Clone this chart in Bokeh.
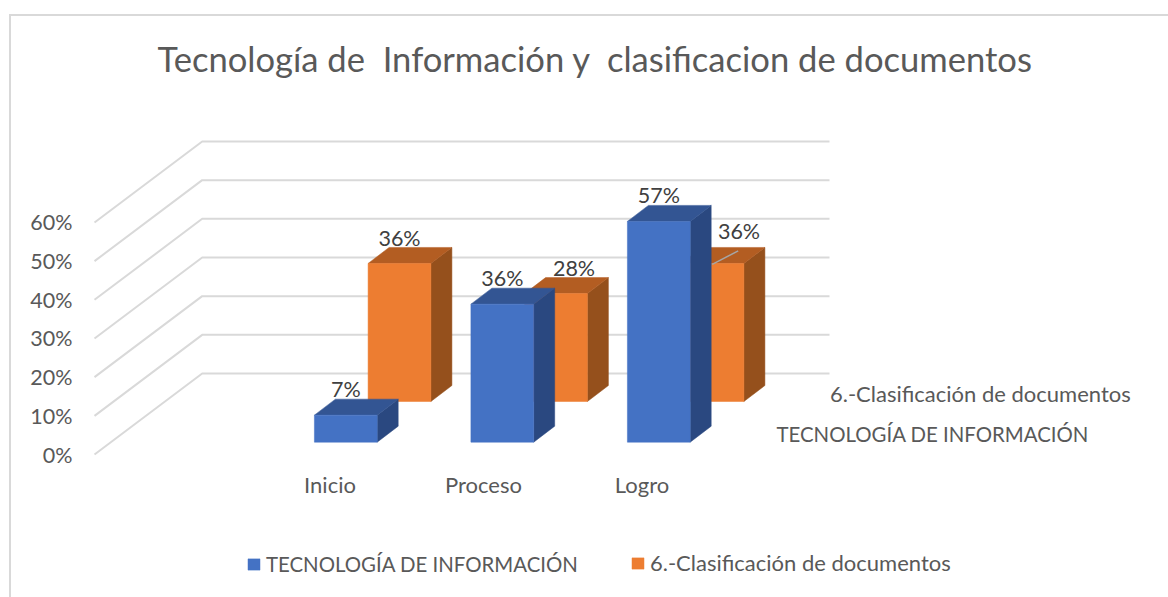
from bokeh.plotting import figure
from bokeh.embed import file_html
from bokeh.resources import INLINE
from bokeh.core.properties import value
from bokeh.models import (Range1d, LinearAxis, FixedTicker, NumeralTickFormatter, Title,
                          Legend, LegendItem, InlineStyleSheet)

TITLE = "Tecnología de\u00a0 Información y\u00a0 clasificacion de documentos"
categories = ["Inicio", "Proceso", "Logro"]
series_names = ["TECNOLOGÍA DE INFORMACIÓN", "6.-Clasificación de documentos"]
tecnologia = [0.07, 0.357, 0.571]
clasificacion = [0.357, 0.279, 0.357]
y_ticks = [0.0, 0.1, 0.2, 0.3, 0.4, 0.5, 0.6]

FONT = "Lato"
GRID = "#d9d9d9"
TEXT = "#595959"
LABEL = "#404040"
BLUE = ("#4472c4", "#335593", "#2a4880")
ORANGE = ("#ed7d31", "#b35d22", "#95501c")

# scale: one x unit is one category step, y is the fraction on the value axis
PX_X = 156.5
PX_Y = 386.7
LEFT, TOP, RIGHT, BOTTOM = 80, 90, 1168, 597   # frame edges on the page
BLUE_C0 = 345.3                                 # page x of first blue bar centre
y0_page = 454.0

x_range = Range1d((LEFT - BLUE_C0) / PX_X, (RIGHT - BLUE_C0) / PX_X)
y_range = Range1d((y0_page - BOTTOM) / PX_Y, (y0_page - TOP) / PX_Y)

border_css = InlineStyleSheet(css=f"""
:host::before {{ content: ""; position: absolute; left: 9px; top: 14px; right: 0; bottom: 0;
  border-left: 2px solid {GRID}; border-top: 2px solid {GRID}; }}
""")

p = figure(width=1168, height=597, frame_width=RIGHT - LEFT, frame_height=BOTTOM - TOP,
           x_range=x_range, y_range=y_range, output_backend="svg", toolbar_location=None,
           min_border_left=LEFT, min_border_right=0, min_border_top=TOP, min_border_bottom=0,
           x_axis_location=None, y_axis_location=None,
           border_fill_color=None, background_fill_color=None)
p.stylesheets = [border_css]
p.grid.visible = False
p.outline_line_color = None

# chart title
p.add_layout(Title(text=TITLE, text_font=FONT, text_font_size="34.6px", text_font_style="normal",
                   text_color=TEXT, align="left", offset=157 - LEFT, standoff=24), "above")

# value axis
ax = LinearAxis(ticker=FixedTicker(ticks=y_ticks), formatter=NumeralTickFormatter(format="0%"),
                axis_line_color=None, major_tick_line_color=None, minor_tick_line_color=None,
                major_label_text_font=FONT, major_label_text_font_size="21.5px",
                major_label_text_color=TEXT, major_label_standoff=2)
p.add_layout(ax, "left")

# depth of the floor in data units
DEPTH_X = 107.7 / PX_X
DEPTH_Y = 81.0 / PX_Y
WALL_X = (94 - BLUE_C0) / PX_X
END_X = (829 - BLUE_C0) / PX_X

for t in y_ticks:
    p.line([WALL_X, WALL_X + DEPTH_X, END_X], [t, t + DEPTH_Y, t + DEPTH_Y], line_color=GRID, line_width=2)

HALF = 31.4 / PX_X
BAR_DX = 21.0 / PX_X
BAR_DY = 16.0 / PX_Y
STEP_DX = 53.7 / PX_X
BLUE_BASE = (454 - 441.7) / PX_Y
ORANGE_BASE = (454 - 401.0) / PX_Y


def bars(vals, base, shift, cols):
    front_x, front_y, top_x, top_y, side_x, side_y = [], [], [], [], [], []
    for i, v in enumerate(vals):
        l, r = i + shift - HALF, i + shift + HALF
        b, t = base, base + v
        front_x.append([l, r, r, l]); front_y.append([b, b, t, t])
        top_x.append([l, r, r + BAR_DX, l + BAR_DX]); top_y.append([t, t, t + BAR_DY, t + BAR_DY])
        side_x.append([r, r + BAR_DX, r + BAR_DX, r]); side_y.append([b, b + BAR_DY, t + BAR_DY, t])
    p.patches(side_x, side_y, fill_color=cols[2], line_color=cols[2], line_width=0.5)
    p.patches(top_x, top_y, fill_color=cols[1], line_color=cols[1], line_width=0.5)
    return p.patches(front_x, front_y, fill_color=cols[0], line_color=cols[0], line_width=0.5)


r_orange = bars(clasificacion, ORANGE_BASE, STEP_DX, ORANGE)

# leader line of the last orange label
lx = 2 + STEP_DX
p.line([lx + (-0.3) / PX_X, lx + 25.7 / PX_X],
       [ORANGE_BASE + clasificacion[2] - 1 / PX_Y, ORANGE_BASE + clasificacion[2] + 12.6 / PX_Y],
       line_color="#a6a6a6", line_width=1.5)

r_blue = bars(tecnologia, BLUE_BASE, 0.0, BLUE)

# data labels
lab_x = [i for i in range(3)] + [i + STEP_DX for i in range(3)]
lab_x[4] += 18 / PX_X
lab_x[5] += 26.5 / PX_X
lab_y = [BLUE_BASE + v + 26.5 / PX_Y for v in tecnologia] + [ORANGE_BASE + v + 25.5 / PX_Y for v in clasificacion]
lab_y[5] += 7 / PX_Y
lab_t = [f"{v:.0%}" for v in tecnologia + clasificacion]
p.text(lab_x, lab_y, text=lab_t, text_font=value(FONT), text_font_size="21.5px", text_color=LABEL,
       text_align="center", text_baseline="middle")

# category labels
cx = [(329.5 - BLUE_C0) / PX_X, (483 - BLUE_C0) / PX_X, (641.5 - BLUE_C0) / PX_X]
cy = [(y0_page - 484) / PX_Y] * 3
p.text(cx, cy, text=categories, text_font=value(FONT), text_font_size="22px", text_color=TEXT,
       text_align="center", text_baseline="middle")

# depth axis labels
p.text([(776 - BLUE_C0) / PX_X], [(y0_page - 433) / PX_Y], text=[series_names[0]], text_font=value(FONT),
       text_font_size="20.4px", text_color=TEXT, text_align="left", text_baseline="middle")
p.text([(829.5 - BLUE_C0) / PX_X], [(y0_page - 393) / PX_Y], text=[series_names[1]], text_font=value(FONT),
       text_font_size="22px", text_color=TEXT, text_align="left", text_baseline="middle")


# legend: one Legend per entry so each text width can follow the reference
def legend(name, rend, x, size):
    return Legend(items=[LegendItem(label=name, renderers=[rend])],
                  orientation="horizontal", location=(x - LEFT, BOTTOM - 576), glyph_width=15, glyph_height=14,
                  label_standoff=5, spacing=0, padding=0, margin=0, border_line_color=None,
                  background_fill_alpha=0, label_text_font=FONT, label_text_font_size=size,
                  label_text_color=TEXT, label_height=14)


p.add_layout(legend(series_names[0], r_blue, 246, "20.4px"), "center")
p.add_layout(legend(series_names[1], r_orange, 630, "22px"), "center")

open("out.html", "w").write(file_html(p, INLINE))
